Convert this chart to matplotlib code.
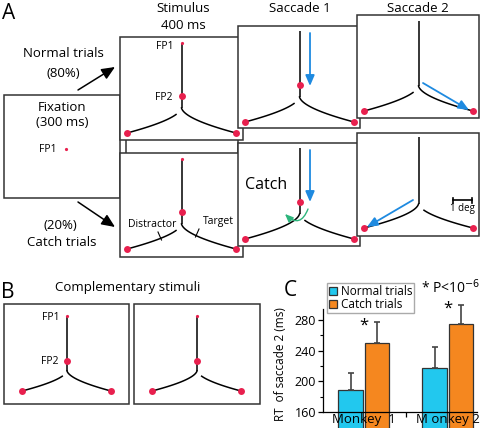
import numpy as np
import matplotlib
matplotlib.use("Agg")
import matplotlib.pyplot as plt
from matplotlib.patches import Rectangle, FancyArrowPatch

plt.rcParams['font.family'] = ['Open Sans', 'DejaVu Sans']

# bar chart data (panel C)
monkeys = ["Monkey  1", "M onkey 2"]
normal_rt = [189, 217]
catch_rt = [250, 275]
normal_err = [22, 27]
catch_err = [27, 24]

RED = '#E8204E'
BLUE = '#1E8AE0'
GREEN = '#2DB57C'
EDGE = '#333333'

fig = plt.figure(figsize=(4.8, 4.28), dpi=100)
ax = fig.add_axes([0, 0, 1, 1])
ax.set_xlim(0, 480)
ax.set_ylim(428, 0)
ax.axis('off')


def box(x, y, w, h, z):
    ax.add_patch(Rectangle((x, y), w, h, facecolor='white', edgecolor=EDGE, lw=1.1, zorder=z))


def bez(p0, p1, p2, t0=0.0):
    t = np.linspace(t0, 1, 30)[:, None]
    pts = (1 - t) ** 2 * np.array(p0) + 2 * t * (1 - t) * np.array(p1) + t ** 2 * np.array(p2)
    return pts[:, 0], pts[:, 1]


def ystim(bx, by, z, fp1=True, fp2=True, connect='right',
          vx=61.5, ytop=6, yfp2=59, yj=71, xl=7, xr=116, yd=96):
    jx, jy = bx + vx, by + yj
    ax.plot([jx, jx], [by + ytop, jy], color='black', lw=1.1, zorder=z + 1,
            solid_capstyle='butt')
    dy = yd - yj
    for side, xd in (('left', xl), ('right', xr)):
        s = -1 if side == 'left' else 1
        p0 = (jx, jy)
        p1 = (jx + s * 3, jy + 0.45 * dy)
        p2 = (bx + xd, by + yd)
        t0 = 0.0 if connect == side else 0.28
        xs, ys = bez(p0, p1, p2, t0)
        ax.plot(xs, ys, color='black', lw=1.1, zorder=z + 1)
        ax.plot(bx + xd, by + yd, 'o', color=RED, ms=5, mec='none', zorder=z + 2)
    if fp1:
        ax.plot(jx, by + ytop, 'o', color=RED, ms=2.3, mec='none', zorder=z + 2)
    if fp2:
        ax.plot(jx, by + yfp2, 'o', color=RED, ms=5, mec='none', zorder=z + 2)


def arrow(p0, p1, color, z, lw=1.3, ms=9, cs=None):
    kw = dict(arrowstyle='-|>,head_length=0.7,head_width=0.3', color=color, lw=lw,
              mutation_scale=ms, zorder=z, shrinkA=0, shrinkB=0)
    if cs:
        kw['connectionstyle'] = cs
    ax.add_patch(FancyArrowPatch(p0, p1, **kw))


# ---- panel A ----
ax.text(2, 13, 'A', fontsize=15, va='center', ha='left')
fs = 9.5
ax.text(183, 8, 'Stimulus', fontsize=fs, ha='center', va='center')
ax.text(183, 25, '400 ms', fontsize=fs, ha='center', va='center')
ax.text(300, 8, 'Saccade 1', fontsize=fs, ha='center', va='center')
ax.text(418, 8, 'Saccade 2', fontsize=fs, ha='center', va='center')
ax.text(63, 53, 'Normal trials', fontsize=fs, ha='center', va='center')
ax.text(63, 73, '(80%)', fontsize=fs, ha='center', va='center')
ax.text(60, 225, '(20%)', fontsize=fs, ha='center', va='center')
ax.text(62, 242, 'Catch trials', fontsize=fs, ha='center', va='center')
ax.annotate('', xy=(115, 67), xytext=(78, 90),
            arrowprops=dict(arrowstyle='-|>,head_length=0.8,head_width=0.35',
                            color='black', lw=1.1, mutation_scale=10, shrinkA=0, shrinkB=0))
ax.annotate('', xy=(115, 227), xytext=(78, 202),
            arrowprops=dict(arrowstyle='-|>,head_length=0.8,head_width=0.35',
                            color='black', lw=1.1, mutation_scale=10, shrinkA=0, shrinkB=0))

# fixation
box(4, 95, 116, 103, 10)
ax.text(62, 107, 'Fixation', fontsize=fs, ha='center', va='center', zorder=11)
ax.text(62, 122, '(300 ms)', fontsize=fs, ha='center', va='center', zorder=11)
ax.text(48, 149, 'FP1', fontsize=7.5, ha='center', va='center', zorder=11)
ax.plot(66, 149, 'o', color=RED, ms=2.3, mec='none', zorder=12)

# card behind catch stimulus
box(126, 120, 112, 40, 15)

# top row
box(120, 37, 123, 103, 20)
ystim(120, 37, 20, connect='right')
ax.text(165, 46, 'FP1', fontsize=7.5, ha='center', va='center', zorder=23)
ax.text(164, 97, 'FP2', fontsize=7.5, ha='center', va='center', zorder=23)

box(238, 26, 122, 102, 30)
ystim(238, 26, 30, fp1=False, connect='right', ytop=5)
arrow((310, 33), (310, 86), BLUE, 34)

box(357, 15, 122, 103, 40)
ystim(357, 15, 40, fp1=False, fp2=False, connect='right')
arrow((423, 83), (469, 110), BLUE, 44)

# catch row
box(120, 153, 123, 104, 24)
ystim(120, 153, 24, connect='right')
ax.text(152, 224, 'Distractor', fontsize=7.5, ha='center', va='center', zorder=27)
ax.text(218, 221, 'Target', fontsize=7.5, ha='center', va='center', zorder=27)
ax.plot([158, 161.5], [232, 240], color='black', lw=0.8, zorder=27)
ax.plot([199, 195.5], [229, 237], color='black', lw=0.8, zorder=27)

box(238, 143, 122, 103, 32)
ystim(238, 143, 32, fp1=False, connect='left', ytop=5)
ax.text(266, 185, 'Catch', fontsize=11.5, ha='center', va='center', zorder=35)
arrow((310, 150), (310, 202), BLUE, 36)
arrow((308, 209), (285, 214), GREEN, 36, lw=1.0, ms=7, cs='arc3,rad=-0.75')

box(357, 133, 122, 103, 42)
ystim(357, 133, 42, fp1=False, fp2=False, connect='left', ytop=4, yd=95)
arrow((413, 200), (367, 227), BLUE, 46)
ax.plot([453, 472], [200, 200], color='black', lw=1.2, zorder=46)
ax.plot([453, 453], [197.5, 202.5], color='black', lw=1.2, zorder=46)
ax.plot([472, 472], [197.5, 202.5], color='black', lw=1.2, zorder=46)
ax.text(462, 208, '1 deg', fontsize=7, ha='center', va='center', zorder=46)

# ---- panel B ----
ax.text(1, 292, 'B', fontsize=15, va='center', ha='left')
ax.text(128, 287, 'Complementary stimuli', fontsize=fs, ha='center', va='center')
box(4, 304, 125, 100, 50)
ystim(4, 304, 50, connect='right', vx=63, ytop=12, yfp2=57, yj=67, xl=18, xr=107, yd=87)
ax.text(51, 317, 'FP1', fontsize=7.5, ha='center', va='center', zorder=53)
ax.text(49.5, 361, 'FP2', fontsize=7.5, ha='center', va='center', zorder=53)
box(134, 304, 126, 100, 50)
ystim(134, 304, 50, connect='left', vx=63, ytop=12, yfp2=57, yj=67, xl=18, xr=107, yd=87)

# ---- panel C ----
ax.text(284, 290, 'C', fontsize=15, va='center', ha='left')
ax.text(451, 288, '* P<10$^{-6}$', fontsize=10, ha='center', va='center')

ax2 = fig.add_axes([323 / 480, (428 - 412) / 428, 154 / 480, 103 / 428])
centers = np.array([0.53, 1.62])
w = 0.32
b1 = ax2.bar(centers - 0.17, normal_rt, w, color='#22C8EE', edgecolor=EDGE, lw=0.9,
             yerr=[[0, 0], normal_err], error_kw=dict(ecolor='#444444', capsize=2.5, elinewidth=1.2, capthick=1.2),
             label='Normal trials', clip_on=False)
b2 = ax2.bar(centers + 0.17, catch_rt, w, color='#F5871F', edgecolor=EDGE, lw=0.9,
             yerr=[[0, 0], catch_err], error_kw=dict(ecolor='#444444', capsize=2.5, elinewidth=1.2, capthick=1.2),
             label='Catch trials', clip_on=False)
for c in ax2.get_children():
    c.set_clip_on(False)
ax2.set_xlim(0, 2)
ax2.set_ylim(160, 294)
ax2.set_yticks([160, 200, 240, 280])
ax2.set_yticks([180, 220, 260], minor=True)
ax2.set_xticks([1.075])
ax2.set_xticklabels([''])
ax2.tick_params(axis='both', length=3.5, width=0.9, labelsize=9, pad=1.5)
ax2.tick_params(axis='y', which='minor', length=2, width=0.8)
for s in ('top', 'right'):
    ax2.spines[s].set_visible(False)
for s in ('left', 'bottom'):
    ax2.spines[s].set_linewidth(0.9)
for cx, lab in zip(centers, monkeys):
    ax2.text(cx, 150.5, lab, fontsize=9.5, ha='center', va='center', clip_on=False)
ax2.set_ylabel('RT  of saccade 2 (ms)', fontsize=8.5, labelpad=2)
ax2.yaxis.set_label_coords(-0.235, 0.47)
for cx, v, e in zip(centers + 0.17, catch_rt, catch_err):
    ax2.text(cx - 0.17, v + e - 5, '*', fontsize=12, ha='center', va='center', clip_on=False)
ax2.legend(loc='upper left', bbox_to_anchor=(327 / 480, 1 - 283 / 428), bbox_transform=fig.transFigure,
           fontsize=8.5, handlelength=0.7, handleheight=0.7, handletextpad=0.3, borderpad=0.15,
           labelspacing=0.0, borderaxespad=0, fancybox=False, framealpha=1, edgecolor='#AAAAAA')

fig.savefig('out.png', dpi=100)
